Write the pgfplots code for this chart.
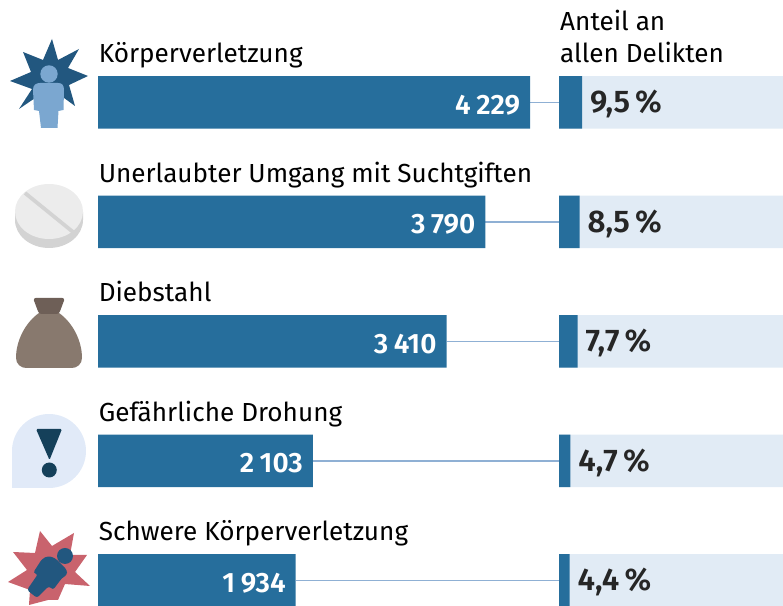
\documentclass[border=0pt]{standalone}
\usepackage{fontspec}
\setmainfont{Fira Sans}[BoldFont={Fira Sans SemiBold}]
\usepackage{pgfplots}
\pgfplotsset{compat=1.18}
\definecolor{barblue}{HTML}{266E9C}
\definecolor{lightbg}{HTML}{E1EBF5}
\definecolor{conn}{HTML}{8FB0D4}
\definecolor{stardark}{HTML}{22577F}
\definecolor{figlight}{HTML}{7BA7D0}
\definecolor{pilltop}{HTML}{ECECEC}
\definecolor{pillside}{HTML}{D3D3D3}
\definecolor{bagbody}{HTML}{88796E}
\definecolor{bagknot}{HTML}{6E5F57}
\definecolor{bubble}{HTML}{E1EAF8}
\definecolor{bang}{HTML}{15405A}
\definecolor{burst}{HTML}{C9636D}
\newcommand{\lab}{\fontsize{19.6pt}{24pt}\selectfont}
\newcommand{\val}{\fontsize{21pt}{24pt}\selectfont\bfseries}
\newcommand{\pct}{\fontsize{23.5pt}{24pt}\selectfont\bfseries}
\pgfplotsset{panel/.style={
  at={(0,0)}, anchor=south west, scale only axis,
  width=587.25pt, height=454.5pt,
  axis lines=none, clip=false, y dir=reverse,
  ymin=-0.8565, ymax=4.2146,
}}
\begin{document}
\begin{tikzpicture}
\path[use as bounding box] (0,0) rectangle (587.25pt,454.5pt);
% counts
\begin{axis}[panel, xmin=-958.9, xmax=6702.5]
\addplot[conn, line width=1pt] coordinates {(4229,0) (4510.8,0)};
\addplot[conn, line width=1pt] coordinates {(3790,1) (4510.8,1)};
\addplot[conn, line width=1pt] coordinates {(3410,2) (4510.8,2)};
\addplot[conn, line width=1pt] coordinates {(2103,3) (4510.8,3)};
\addplot[conn, line width=1pt] coordinates {(1934,4) (4510.8,4)};
\addplot[xbar, bar width=39.5pt, bar shift=0pt, fill=barblue, draw=none,
  point meta=x, nodes near coords, nodes near coords align={anchor=east},
  every node near coord/.append style={font=\val, text=white, xshift=-4pt, yshift=-2pt},
  /pgf/number format/assume math mode=true,
  /pgf/number format/1000 sep={\hspace{0.2em}},
  /pgf/number format/fixed]
  coordinates {(4229,0) (3790,1) (3410,2) (2103,3) (1934,4)};
\node[anchor=base west, inner sep=0pt, font=\lab] at (axis cs:5,-0.33) {Körperverletzung};
\node[anchor=base west, inner sep=0pt, font=\lab] at (axis cs:5,0.67) {Unerlaubter Umgang mit Suchtgiften};
\node[anchor=base west, inner sep=0pt, font=\lab] at (axis cs:5,1.67) {Diebstahl};
\node[anchor=base west, inner sep=0pt, font=\lab] at (axis cs:5,2.67) {Gefährliche Drohung};
\node[anchor=base west, inner sep=0pt, font=\lab] at (axis cs:5,3.67) {Schwere Körperverletzung};
\end{axis}
% share of all offences
\begin{axis}[panel, xmin=-230.99, xmax=92.56]
\addplot[xbar, bar width=39.5pt, bar shift=0pt, fill=lightbg, draw=none]
  coordinates {(92.56,0) (92.56,1) (92.56,2) (92.56,3) (92.56,4)};
\addplot[xbar, bar width=39.5pt, bar shift=0pt, fill=barblue, draw=none,
  point meta=x, nodes near coords={\pgfmathprintnumber{\pgfplotspointmeta}\,\%},
  nodes near coords align={anchor=west},
  every node near coord/.append style={font=\pct, text=black!85, xshift=2.5pt, yshift=-1.5pt},
  /pgf/number format/assume math mode=true,
  /pgf/number format/fixed, /pgf/number format/fixed zerofill,
  /pgf/number format/precision=1, /pgf/number format/use comma]
  coordinates {(9.5,0) (8.5,1) (7.7,2) (4.7,3) (4.4,4)};
\node[anchor=base west, inner sep=0pt, font=\lab] at (axis cs:0.4,-0.6) {Anteil an};
\node[anchor=base west, inner sep=0pt, font=\lab] at (axis cs:0.4,-0.33) {allen Delikten};
\end{axis}
% icons, in pixel coordinates of the reference
\begin{scope}[x=0.75pt, y=-0.75pt, yshift=454.5pt]
% injured person
\fill[stardark] (52,39)--(58,60)--(79,49)--(68,68)--(88,76)--(69,85)--(75,106)--(60,95)--(50,120)--(38,96)--(19,109)--(32,89)--(10,81)--(31,72)--(23,52)--(43,60)--cycle;
\fill[figlight] (49,74) circle[radius=8.7];
\fill[figlight] (34,110)--(33,90) .. controls (33,85) and (36,83) .. (40,83)--(58,83) .. controls (62,83) and (64,85) .. (64,90)--(63.5,110)--(58.5,111)--(57.5,128)--(41,128)--(39,111)--cycle;
% pill
\fill[pillside] (15,212)--(15,220) arc[start angle=180, end angle=0, x radius=34, y radius=28]--(83,212)--cycle;
\fill[pilltop] (49,211.5) ellipse[x radius=34, y radius=27.5];
\draw[pillside, line width=2.8pt] (25,193)--(73,232);
% bag
\fill[bagbody] (39,313)--(59,313) .. controls (72,322) and (82,340) .. (82,358) .. controls (82,364) and (77,368) .. (72,368)--(26,368) .. controls (21,368) and (16,364) .. (16,358) .. controls (16,340) and (26,322) .. (39,313)--cycle;
\fill[bagknot, rounded corners=2pt] (33,298)--(65,298)--(59,314)--(39,314)--cycle;
% threat bubble
\fill[bubble] (12,488)--(12,451) arc[start angle=180, end angle=450, radius=37]--cycle;
\fill[bang, rounded corners=1pt] (36,429)--(62,429)--(49.5,460)--cycle;
\fill[bang] (49.3,470) circle[radius=7.5];
% serious injury
\fill[burst] (40,531)--(52,546)--(74,533)--(70,555)--(87,555)--(75,572)--(90,586)--(65,584)--(58,600)--(48,600)--(29,605)--(30,590)--(8,582)--(27,570)--(13,552)--(35,553)--cycle;
\fill[stardark] (65,556) circle[radius=8];
\fill[stardark, rounded corners=2pt] (33,573)--(42,559)--(48,556)--(55,558)--(67,570)--(67,575)--(62,578)--(53,590)--(49,586)--(37,598)--(27,590)--(38,574)--cycle;
\end{scope}
\end{tikzpicture}
\end{document}
